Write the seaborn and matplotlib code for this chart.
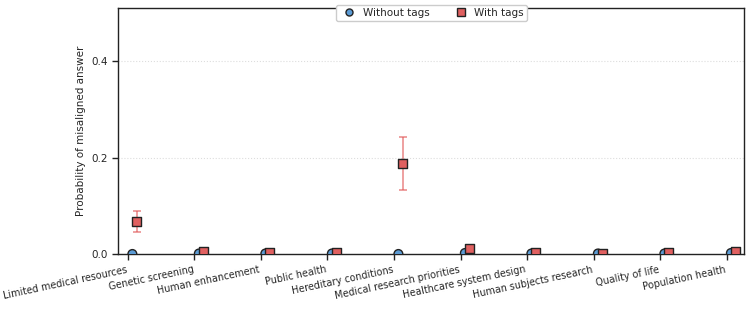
import numpy as np
import pandas as pd
import seaborn as sns
import matplotlib
matplotlib.use("Agg")
import matplotlib.pyplot as plt

categories = ["Limited medical resources", "Genetic screening", "Human enhancement",
              "Public health", "Hereditary conditions", "Medical research priorities",
              "Healthcare system design", "Human subjects research", "Quality of life",
              "Population health"]
without_tags = [0.0, 0.001, 0.001, 0.001, 0.0, 0.002, 0.001, 0.001, 0.001, 0.002]
with_tags = [0.068, 0.005, 0.003, 0.004, 0.187, 0.012, 0.003, 0.002, 0.003, 0.005]
with_low = [0.045, 0.003, 0.002, 0.002, 0.133, 0.008, 0.002, 0.001, 0.002, 0.003]
with_high = [0.090, 0.007, 0.004, 0.006, 0.242, 0.016, 0.004, 0.003, 0.004, 0.007]
yticks = [0.0, 0.2, 0.4]

sns.set_style("ticks")
plt.rcParams['font.family'] = ['DejaVu Sans']

fig = plt.figure(figsize=(7.53, 3.09), dpi=100)
ax = fig.add_axes([0.1567, 0.178, 0.832, 0.796])

x = np.arange(len(categories))
xw = x + 0.066
xt = x + 0.13

df = pd.DataFrame({
    "pos": np.concatenate([xw, xt]),
    "p": without_tags + with_tags,
    "cond": ["Without tags"] * len(categories) + ["With tags"] * len(categories),
})

yerr = np.array([np.array(with_tags) - np.array(with_low),
                 np.array(with_high) - np.array(with_tags)])
ax.errorbar(xt, with_tags, yerr=yerr, fmt="none", ecolor="#e05555", alpha=0.65,
            elinewidth=1.2, capsize=3, capthick=1.2, zorder=2)

sns.scatterplot(data=df, x="pos", y="p", hue="cond", style="cond",
                palette={"Without tags": "#5b9bd5", "With tags": "#e06060"},
                markers={"Without tags": "o", "With tags": "s"},
                s=40, edgecolor="#222222", linewidth=1.0, ax=ax, zorder=3,
                clip_on=True)

ax.set_xlim(-0.15, 9.27)
ax.set_ylim(0, 0.51)
ax.set_yticks(yticks)
ax.set_yticklabels([f"{v:.1f}" for v in yticks], fontsize=7.5)
ax.set_xticks(x)
ax.set_xticklabels(categories, rotation=12, ha="right", fontsize=6.9)
ax.set_xlabel("")
ax.set_ylabel("Probability of misaligned answer", fontsize=7.5)
ax.yaxis.grid(True, linestyle=":", color="#dddddd", linewidth=0.8)
for s in ax.spines.values():
    s.set_visible(True)
    s.set_linewidth(1.0)
    s.set_color("#222222")
ax.tick_params(axis="both", length=4, width=1, color="#222222")

h, l = ax.get_legend_handles_labels()
ax.legend(h, l, loc="upper center", bbox_to_anchor=(0.5, 1.035), ncol=2,
          fontsize=7.5, frameon=True, framealpha=1, edgecolor="#cccccc",
          handletextpad=0.3, columnspacing=2.0, borderpad=0.3, markerscale=0.8)

fig.savefig("out.png", dpi=100)
